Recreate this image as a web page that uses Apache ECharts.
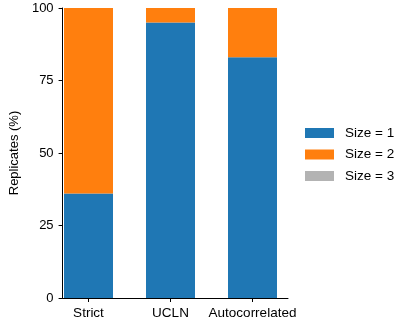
<!DOCTYPE html>
<html>
<head>
    <meta charset="UTF-8">
    <title></title>
    <style>
        html, body { margin: 0; padding: 0; background: #fff; }
        #main { width: 400px; height: 322px; }
    </style>
</head>
<body>
<div id="main"></div>
<script src="https://cdn.jsdelivr.net/npm/echarts@6/dist/echarts.min.js"></script>
<script type="text/javascript">
    // data
    var categories = ['Strict', 'UCLN', 'Autocorrelated'];
    var size1 = [36, 95, 83];
    var size2 = [64, 5, 17];
    var size3 = [0, 0, 0];
    var seriesNames = ['Size = 1', 'Size = 2', 'Size = 3'];
    var yTicks = [0, 25, 50, 75, 100];

    var font = 'Liberation Sans';
    var chart = echarts.init(document.getElementById('main'));

    // grid 0 holds the bars (bands of 82px), grid 1 only draws the axis frame
    var option = {
        animation: false,
        textStyle: {fontFamily: font},
        legend: {
            data: seriesNames,
            orient: 'vertical',
            left: 300,
            top: 121,
            icon: 'rect',
            itemWidth: 29,
            itemHeight: 10,
            itemGap: 7.5,
            textStyle: {fontFamily: font, fontSize: 13.5, color: '#000', padding: [0, 0, 0, 6]}
        },
        grid: [
            {left: 47.5, top: 8, width: 246, height: 290},
            {left: 53, top: 8, width: 235, height: 290}
        ],
        xAxis: [
            {
                type: 'category',
                gridIndex: 0,
                data: categories,
                axisLine: {show: false},
                axisTick: {show: true, alignWithLabel: true, length: 4, lineStyle: {color: '#000', width: 1}},
                axisLabel: {color: '#000', fontSize: 13.5, fontFamily: font, margin: 8, interval: 0},
                splitLine: {show: false}
            },
            {
                type: 'value',
                gridIndex: 1,
                min: 0,
                max: 1,
                axisLine: {show: true, lineStyle: {color: '#000', width: 1}},
                axisTick: {show: false},
                axisLabel: {show: false},
                splitLine: {show: false}
            }
        ],
        yAxis: [
            {
                type: 'value',
                gridIndex: 0,
                min: 0,
                max: 100,
                show: false
            },
            {
                type: 'value',
                gridIndex: 1,
                min: 0,
                max: 100,
                interval: 25,
                name: 'Replicates (%)',
                nameLocation: 'middle',
                nameGap: 40,
                nameTextStyle: {color: '#000', fontSize: 13, fontFamily: font},
                axisLine: {show: true, lineStyle: {color: '#000', width: 1}},
                axisTick: {show: true, length: 4, lineStyle: {color: '#000', width: 1}},
                axisLabel: {
                    color: '#000', fontSize: 13, fontFamily: font, margin: 9,
                    formatter: function (v) { return yTicks.indexOf(v) >= 0 ? String(v) : ''; }
                },
                splitLine: {show: false}
            }
        ],
        series: [
            {name: seriesNames[0], type: 'bar', stack: 'a', data: size1, barWidth: 49, itemStyle: {color: '#1f77b4'}},
            {name: seriesNames[1], type: 'bar', stack: 'a', data: size2, barWidth: 49, itemStyle: {color: '#ff7f0e'}},
            {name: seriesNames[2], type: 'bar', stack: 'a', data: size3, barWidth: 49, itemStyle: {color: '#b3b3b3'}}
        ]
    };
    chart.setOption(option);
</script>
</body>
</html>
